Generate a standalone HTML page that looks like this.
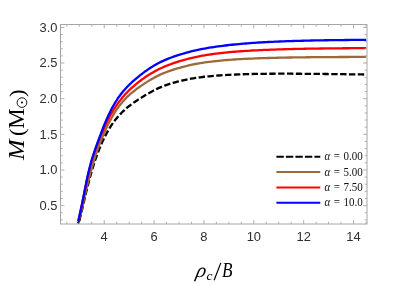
<!DOCTYPE html>
<html><head><meta charset="utf-8"><title>plot</title>
<style>
html,body{margin:0;padding:0;background:#fff;}
body{width:393px;height:286px;overflow:hidden;}
svg{display:block;will-change:transform;}
.tk text{font-family:"Liberation Sans",sans-serif;font-size:12.9px;fill:#2e2e2e;}
.lg{font-family:"Liberation Serif",serif;font-size:12px;fill:#111;}
.ax{font-family:"Liberation Serif",serif;font-size:18px;fill:#000;}
</style></head><body>
<svg width="393" height="286" viewBox="0 0 393 286">
<rect width="393" height="286" fill="#fff"/>
<defs><clipPath id="cp"><rect x="60.5" y="24.5" width="307.0" height="199.5"/></clipPath></defs>
<g fill="none" stroke-width="2.3" stroke-linejoin="round" clip-path="url(#cp)" transform="translate(0,0.7)">
<path d="M78.1,222.70 L79.0,220.58 L79.9,217.66 L80.8,214.24 L81.7,210.55 L82.6,206.71 L83.5,202.83 L84.4,198.95 L85.3,195.12 L86.2,191.37 L87.1,187.71 L88.0,184.16 L88.9,180.71 L89.8,177.37 L90.7,174.15 L91.6,171.03 L92.5,168.03 L93.4,165.13 L94.2,162.34 L95.1,159.65 L96.0,157.05 L96.9,154.55 L97.8,152.14 L98.7,149.81 L99.6,147.57 L100.5,145.41 L101.4,143.32 L102.3,141.31 L103.2,139.37 L104.1,137.50 L105.0,135.70 L105.9,133.96 L106.8,132.29 L107.7,130.67 L108.6,129.12 L109.5,127.62 L110.4,126.17 L111.3,124.78 L112.2,123.44 L113.1,122.16 L114.0,120.91 L114.9,119.72 L115.8,118.57 L116.7,117.46 L117.6,116.39 L118.5,115.36 L119.4,114.37 L120.3,113.41 L121.2,112.48 L122.1,111.59 L123.0,110.72 L123.9,109.88 L124.7,109.06 L125.6,108.27 L126.5,107.50 L127.4,106.75 L128.3,106.02 L129.2,105.31 L130.1,104.61 L131.0,103.93 L131.9,103.27 L132.8,102.62 L133.7,101.98 L134.6,101.36 L135.5,100.75 L136.4,100.14 L137.3,99.55 L138.2,98.96 L139.1,98.38 L140.0,97.81 L141.0,97.18 L143.3,95.77 L145.5,94.39 L147.8,93.04 L150.1,91.74 L152.4,90.49 L154.6,89.30 L156.9,88.17 L159.2,87.12 L161.5,86.14 L163.7,85.24 L166.0,84.40 L168.3,83.62 L170.6,82.89 L172.8,82.21 L175.1,81.57 L177.4,80.97 L179.7,80.40 L181.9,79.86 L184.2,79.35 L186.5,78.87 L188.8,78.42 L191.0,78.00 L193.3,77.61 L195.6,77.24 L197.9,76.91 L200.1,76.60 L202.4,76.31 L204.7,76.05 L207.0,75.80 L209.2,75.57 L211.5,75.36 L213.8,75.16 L216.1,74.98 L218.3,74.80 L220.6,74.64 L222.9,74.49 L225.2,74.35 L227.4,74.22 L229.7,74.10 L232.0,73.98 L234.3,73.88 L236.5,73.78 L238.8,73.69 L241.1,73.61 L243.4,73.53 L245.6,73.47 L247.9,73.40 L250.2,73.35 L252.5,73.29 L254.7,73.25 L257.0,73.20 L259.3,73.17 L261.6,73.14 L263.8,73.11 L266.1,73.08 L268.4,73.06 L270.7,73.04 L272.9,73.03 L275.2,73.02 L277.5,73.01 L279.8,73.01 L282.0,73.00 L284.3,73.00 L286.6,73.01 L288.9,73.01 L291.1,73.02 L293.4,73.03 L295.7,73.04 L298.0,73.05 L300.2,73.06 L302.5,73.08 L304.8,73.10 L307.1,73.11 L309.3,73.13 L311.6,73.15 L313.9,73.17 L316.2,73.20 L318.4,73.22 L320.7,73.24 L323.0,73.27 L325.3,73.30 L327.5,73.32 L329.8,73.35 L332.1,73.38 L334.4,73.40 L336.6,73.43 L338.9,73.46 L341.2,73.49 L343.5,73.52 L345.7,73.54 L348.0,73.57 L350.3,73.60 L352.6,73.63 L354.8,73.66 L357.1,73.69 L359.4,73.72 L361.7,73.75 L363.9,73.78 L366.2,73.80" stroke="#000000" stroke-dasharray="6.4 2.45" stroke-dashoffset="5.9"/>
<path d="M78.1,222.70 L79.0,220.58 L79.9,217.66" stroke="#000"/>
<path d="M78.5,220.35 L79.4,217.78 L80.3,214.56 L81.2,210.95 L82.1,207.13 L83.0,203.20 L83.8,199.24 L84.7,195.30 L85.6,191.42 L86.5,187.61 L87.4,183.90 L88.3,180.29 L89.2,176.79 L90.1,173.40 L91.0,170.12 L91.9,166.94 L92.8,163.87 L93.7,160.90 L94.5,158.03 L95.4,155.25 L96.3,152.56 L97.2,149.95 L98.1,147.43 L99.0,144.98 L99.9,142.60 L100.8,140.30 L101.7,138.06 L102.6,135.88 L103.5,133.77 L104.3,131.72 L105.2,129.73 L106.1,127.79 L107.0,125.91 L107.9,124.08 L108.8,122.31 L109.7,120.59 L110.6,118.93 L111.5,117.31 L112.4,115.75 L113.3,114.23 L114.2,112.77 L115.0,111.35 L115.9,109.98 L116.8,108.66 L117.7,107.38 L118.6,106.15 L119.5,104.96 L120.4,103.81 L121.3,102.71 L122.2,101.64 L123.1,100.61 L124.0,99.62 L124.8,98.66 L125.7,97.73 L126.6,96.83 L127.5,95.96 L128.4,95.12 L129.3,94.31 L130.2,93.52 L131.1,92.75 L132.0,92.00 L132.9,91.26 L133.8,90.55 L134.7,89.85 L135.5,89.16 L136.4,88.49 L137.3,87.83 L138.2,87.18 L139.1,86.54 L140.0,85.91 L141.0,85.21 L143.3,83.65 L145.5,82.15 L147.8,80.69 L150.1,79.29 L152.4,77.96 L154.6,76.69 L156.9,75.50 L159.2,74.39 L161.5,73.36 L163.7,72.40 L166.0,71.51 L168.3,70.67 L170.6,69.88 L172.8,69.13 L175.1,68.42 L177.4,67.74 L179.7,67.09 L181.9,66.46 L184.2,65.87 L186.5,65.30 L188.8,64.75 L191.0,64.24 L193.3,63.76 L195.6,63.30 L197.9,62.88 L200.1,62.49 L202.4,62.13 L204.7,61.78 L207.0,61.47 L209.2,61.17 L211.5,60.89 L213.8,60.62 L216.1,60.37 L218.3,60.14 L220.6,59.91 L222.9,59.70 L225.2,59.50 L227.4,59.31 L229.7,59.14 L232.0,58.97 L234.3,58.81 L236.5,58.66 L238.8,58.52 L241.1,58.39 L243.4,58.26 L245.6,58.14 L247.9,58.03 L250.2,57.93 L252.5,57.83 L254.7,57.73 L257.0,57.65 L259.3,57.56 L261.6,57.49 L263.8,57.41 L266.1,57.34 L268.4,57.28 L270.7,57.22 L272.9,57.16 L275.2,57.10 L277.5,57.05 L279.8,57.00 L282.0,56.95 L284.3,56.91 L286.6,56.86 L288.9,56.82 L291.1,56.79 L293.4,56.75 L295.7,56.72 L298.0,56.68 L300.2,56.65 L302.5,56.62 L304.8,56.60 L307.1,56.57 L309.3,56.54 L311.6,56.52 L313.9,56.50 L316.2,56.48 L318.4,56.46 L320.7,56.44 L323.0,56.42 L325.3,56.40 L327.5,56.39 L329.8,56.37 L332.1,56.36 L334.4,56.34 L336.6,56.33 L338.9,56.32 L341.2,56.31 L343.5,56.30 L345.7,56.29 L348.0,56.28 L350.3,56.27 L352.6,56.27 L354.8,56.26 L357.1,56.25 L359.4,56.25 L361.7,56.24 L363.9,56.24 L366.2,56.23" stroke="#9c6a38"/>
<path d="M78.4,220.30 L79.3,216.23 L80.2,212.23 L81.1,208.14 L82.0,203.92 L82.9,199.59 L83.8,195.16 L84.6,190.70 L85.5,186.27 L86.4,181.93 L87.3,177.72 L88.2,173.67 L89.1,169.82 L90.0,166.21 L90.9,162.86 L91.8,159.74 L92.7,156.82 L93.6,154.07 L94.5,151.44 L95.4,148.93 L96.3,146.51 L97.1,144.15 L98.0,141.85 L98.9,139.61 L99.8,137.42 L100.7,135.26 L101.6,133.13 L102.5,131.03 L103.4,128.96 L104.3,126.91 L105.2,124.89 L106.1,122.94 L107.0,121.06 L107.9,119.24 L108.8,117.51 L109.6,115.84 L110.5,114.23 L111.4,112.67 L112.3,111.16 L113.2,109.69 L114.1,108.26 L115.0,106.87 L115.9,105.53 L116.8,104.23 L117.7,102.96 L118.6,101.73 L119.5,100.54 L120.4,99.38 L121.3,98.26 L122.1,97.16 L123.0,96.10 L123.9,95.07 L124.8,94.07 L125.7,93.10 L126.6,92.15 L127.5,91.23 L128.4,90.33 L129.3,89.45 L130.2,88.59 L131.1,87.76 L132.0,86.94 L132.9,86.15 L133.8,85.37 L134.6,84.60 L135.5,83.85 L136.4,83.12 L137.3,82.40 L138.2,81.69 L139.1,81.00 L140.0,80.32 L141.0,79.56 L143.3,77.91 L145.5,76.32 L147.8,74.81 L150.1,73.36 L152.4,71.99 L154.6,70.69 L156.9,69.47 L159.2,68.32 L161.5,67.24 L163.7,66.23 L166.0,65.28 L168.3,64.38 L170.6,63.53 L172.8,62.72 L175.1,61.95 L177.4,61.21 L179.7,60.50 L181.9,59.82 L184.2,59.17 L186.5,58.54 L188.8,57.94 L191.0,57.37 L193.3,56.83 L195.6,56.32 L197.9,55.84 L200.1,55.40 L202.4,54.98 L204.7,54.58 L207.0,54.21 L209.2,53.87 L211.5,53.54 L213.8,53.22 L216.1,52.93 L218.3,52.65 L220.6,52.38 L222.9,52.13 L225.2,51.89 L227.4,51.66 L229.7,51.45 L232.0,51.24 L234.3,51.05 L236.5,50.86 L238.8,50.69 L241.1,50.53 L243.4,50.37 L245.6,50.22 L247.9,50.08 L250.2,49.95 L252.5,49.82 L254.7,49.70 L257.0,49.59 L259.3,49.48 L261.6,49.37 L263.8,49.27 L266.1,49.18 L268.4,49.09 L270.7,49.00 L272.9,48.91 L275.2,48.83 L277.5,48.75 L279.8,48.67 L282.0,48.60 L284.3,48.53 L286.6,48.46 L288.9,48.40 L291.1,48.34 L293.4,48.28 L295.7,48.23 L298.0,48.18 L300.2,48.13 L302.5,48.09 L304.8,48.05 L307.1,48.01 L309.3,47.97 L311.6,47.93 L313.9,47.90 L316.2,47.87 L318.4,47.83 L320.7,47.80 L323.0,47.78 L325.3,47.75 L327.5,47.72 L329.8,47.70 L332.1,47.67 L334.4,47.65 L336.6,47.63 L338.9,47.61 L341.2,47.59 L343.5,47.57 L345.7,47.55 L348.0,47.53 L350.3,47.52 L352.6,47.50 L354.8,47.49 L357.1,47.47 L359.4,47.46 L361.7,47.45 L363.9,47.44 L366.2,47.43" stroke="#ff0000"/>
<path d="M78.3,220.30 L79.2,216.20 L80.1,212.16 L81.0,208.01 L81.9,203.72 L82.8,199.33 L83.7,194.87 L84.6,190.40 L85.5,185.97 L86.3,181.62 L87.2,177.41 L88.1,173.37 L89.0,169.53 L89.9,165.91 L90.8,162.52 L91.7,159.35 L92.6,156.38 L93.5,153.56 L94.4,150.86 L95.3,148.25 L96.2,145.70 L97.1,143.20 L98.0,140.73 L98.9,138.30 L99.8,135.89 L100.7,133.51 L101.5,131.16 L102.4,128.85 L103.3,126.58 L104.2,124.35 L105.1,122.17 L106.0,120.05 L106.9,117.99 L107.8,116.00 L108.7,114.06 L109.6,112.19 L110.5,110.38 L111.4,108.64 L112.3,106.96 L113.2,105.33 L114.1,103.77 L115.0,102.26 L115.9,100.81 L116.8,99.41 L117.6,98.06 L118.5,96.76 L119.4,95.51 L120.3,94.29 L121.2,93.12 L122.1,91.98 L123.0,90.89 L123.9,89.82 L124.8,88.79 L125.7,87.79 L126.6,86.82 L127.5,85.87 L128.4,84.95 L129.3,84.05 L130.2,83.18 L131.1,82.32 L132.0,81.49 L132.8,80.67 L133.7,79.87 L134.6,79.09 L135.5,78.32 L136.4,77.57 L137.3,76.82 L138.2,76.09 L139.1,75.37 L140.0,74.66 L141.0,73.88 L143.3,72.16 L145.5,70.49 L147.8,68.90 L150.1,67.38 L152.4,65.93 L154.6,64.57 L156.9,63.28 L159.2,62.08 L161.5,60.95 L163.7,59.90 L166.0,58.91 L168.3,57.98 L170.6,57.10 L172.8,56.26 L175.1,55.47 L177.4,54.71 L179.7,53.99 L181.9,53.29 L184.2,52.62 L186.5,51.97 L188.8,51.36 L191.0,50.77 L193.3,50.21 L195.6,49.67 L197.9,49.17 L200.1,48.70 L202.4,48.25 L204.7,47.82 L207.0,47.42 L209.2,47.04 L211.5,46.67 L213.8,46.32 L216.1,45.99 L218.3,45.67 L220.6,45.37 L222.9,45.08 L225.2,44.80 L227.4,44.54 L229.7,44.28 L232.0,44.04 L234.3,43.80 L236.5,43.58 L238.8,43.37 L241.1,43.16 L243.4,42.97 L245.6,42.78 L247.9,42.60 L250.2,42.43 L252.5,42.27 L254.7,42.11 L257.0,41.96 L259.3,41.82 L261.6,41.68 L263.8,41.55 L266.1,41.43 L268.4,41.31 L270.7,41.19 L272.9,41.08 L275.2,40.98 L277.5,40.88 L279.8,40.78 L282.0,40.69 L284.3,40.60 L286.6,40.52 L288.9,40.44 L291.1,40.36 L293.4,40.29 L295.7,40.22 L298.0,40.15 L300.2,40.09 L302.5,40.03 L304.8,39.97 L307.1,39.92 L309.3,39.87 L311.6,39.82 L313.9,39.77 L316.2,39.73 L318.4,39.68 L320.7,39.64 L323.0,39.60 L325.3,39.57 L327.5,39.53 L329.8,39.50 L332.1,39.47 L334.4,39.44 L336.6,39.41 L338.9,39.39 L341.2,39.36 L343.5,39.34 L345.7,39.31 L348.0,39.29 L350.3,39.27 L352.6,39.25 L354.8,39.24 L357.1,39.22 L359.4,39.21 L361.7,39.19 L363.9,39.18 L366.2,39.16" stroke="#0000ff"/>
</g>
<g fill="none">
<path d="M276.4,156.8H320.3" stroke="#000000" stroke-width="2" stroke-dasharray="7.4 2.1"/>
<text transform="translate(324.4,160.4) scale(0.92,1)" word-spacing="0.9" class="lg"><tspan font-style="italic">α</tspan> = 0.00</text>
<path d="M276.4,172.1H320.3" stroke="#9c6a38" stroke-width="2"/>
<text transform="translate(324.4,175.7) scale(0.92,1)" word-spacing="0.9" class="lg"><tspan font-style="italic">α</tspan> = 5.00</text>
<path d="M276.4,187.5H320.3" stroke="#ff0000" stroke-width="2"/>
<text transform="translate(324.4,191.1) scale(0.92,1)" word-spacing="0.9" class="lg"><tspan font-style="italic">α</tspan> = 7.50</text>
<path d="M276.4,202.7H320.3" stroke="#0000ff" stroke-width="2"/>
<text transform="translate(324.4,206.3) scale(0.92,1)" word-spacing="0.9" class="lg"><tspan font-style="italic">α</tspan> = 10.0</text>
</g>
<path d="M66.83,224.0v-2.2M66.83,24.5v2.2M79.30,224.0v-2.2M79.30,24.5v2.2M91.77,224.0v-2.2M91.77,24.5v2.2M104.23,224.0v-3.9M104.23,24.5v3.9M116.69,224.0v-2.2M116.69,24.5v2.2M129.16,224.0v-2.2M129.16,24.5v2.2M141.62,224.0v-2.2M141.62,24.5v2.2M154.09,224.0v-3.9M154.09,24.5v3.9M166.56,224.0v-2.2M166.56,24.5v2.2M179.02,224.0v-2.2M179.02,24.5v2.2M191.49,224.0v-2.2M191.49,24.5v2.2M203.95,224.0v-3.9M203.95,24.5v3.9M216.42,224.0v-2.2M216.42,24.5v2.2M228.88,224.0v-2.2M228.88,24.5v2.2M241.34,224.0v-2.2M241.34,24.5v2.2M253.81,224.0v-3.9M253.81,24.5v3.9M266.27,224.0v-2.2M266.27,24.5v2.2M278.74,224.0v-2.2M278.74,24.5v2.2M291.20,224.0v-2.2M291.20,24.5v2.2M303.67,224.0v-3.9M303.67,24.5v3.9M316.13,224.0v-2.2M316.13,24.5v2.2M328.60,224.0v-2.2M328.60,24.5v2.2M341.06,224.0v-2.2M341.06,24.5v2.2M353.53,224.0v-3.9M353.53,24.5v3.9M366.00,224.0v-2.2M366.00,24.5v2.2M60.5,219.86h2.2M367.0,219.86h-2.2M60.5,212.73h2.2M367.0,212.73h-2.2M60.5,205.60h3.9M367.0,205.60h-3.9M60.5,198.47h2.2M367.0,198.47h-2.2M60.5,191.34h2.2M367.0,191.34h-2.2M60.5,184.22h2.2M367.0,184.22h-2.2M60.5,177.09h2.2M367.0,177.09h-2.2M60.5,169.96h3.9M367.0,169.96h-3.9M60.5,162.83h2.2M367.0,162.83h-2.2M60.5,155.70h2.2M367.0,155.70h-2.2M60.5,148.58h2.2M367.0,148.58h-2.2M60.5,141.45h2.2M367.0,141.45h-2.2M60.5,134.32h3.9M367.0,134.32h-3.9M60.5,127.19h2.2M367.0,127.19h-2.2M60.5,120.06h2.2M367.0,120.06h-2.2M60.5,112.94h2.2M367.0,112.94h-2.2M60.5,105.81h2.2M367.0,105.81h-2.2M60.5,98.68h3.9M367.0,98.68h-3.9M60.5,91.55h2.2M367.0,91.55h-2.2M60.5,84.42h2.2M367.0,84.42h-2.2M60.5,77.30h2.2M367.0,77.30h-2.2M60.5,70.17h2.2M367.0,70.17h-2.2M60.5,63.04h3.9M367.0,63.04h-3.9M60.5,55.91h2.2M367.0,55.91h-2.2M60.5,48.78h2.2M367.0,48.78h-2.2M60.5,41.66h2.2M367.0,41.66h-2.2M60.5,34.53h2.2M367.0,34.53h-2.2M60.5,27.40h3.9M367.0,27.40h-3.9" stroke="#a6a6a6" stroke-width="0.9" fill="none"/>
<rect x="60.5" y="24.5" width="306.5" height="199.5" fill="none" stroke="#a6a6a6" stroke-width="1"/>
<g class="tk"><text x="104.2" y="240.6" text-anchor="middle">4</text><text x="154.1" y="240.6" text-anchor="middle">6</text><text x="203.9" y="240.6" text-anchor="middle">8</text><text x="253.8" y="240.6" text-anchor="middle">10</text><text x="303.7" y="240.6" text-anchor="middle">12</text><text x="353.5" y="240.6" text-anchor="middle">14</text><text x="57.4" y="210.0" text-anchor="end">0.5</text><text x="57.4" y="174.4" text-anchor="end">1.0</text><text x="57.4" y="138.7" text-anchor="end">1.5</text><text x="57.4" y="103.1" text-anchor="end">2.0</text><text x="57.4" y="67.4" text-anchor="end">2.5</text><text x="57.4" y="31.8" text-anchor="end">3.0</text></g>
<g class="ax">
<g transform="translate(23.8,159.8) rotate(-90)">
<text transform="translate(-0.2,0) scale(1.045,1)" font-size="23.6" font-style="italic">M</text>
<text transform="translate(23.9,0) scale(1.1,1)" font-size="20.5">(</text>
<text x="31.1" y="0" font-size="23">M</text>
<circle cx="57.2" cy="-1.85" r="4.85" fill="none" stroke="#000" stroke-width="0.9"/>
<circle cx="57.2" cy="-1.85" r="1.0" fill="#000"/>
<text transform="translate(62.9,0) scale(1.1,1)" font-size="20.5">)</text>
</g>
<text transform="translate(195.3,277.2) skewX(-12) scale(1.0,1)" font-size="20.5" font-style="italic">ρ</text>
<text x="206.6" y="279.9" font-size="13.3" font-style="italic">c</text>
<path d="M214.1,280.3L220.8,262.9" stroke="#000" stroke-width="1.2" fill="none"/>
<text transform="translate(221.9,277.1) scale(0.86,1)" font-size="20" font-style="italic">B</text>
</g>
</svg>
</body></html>
